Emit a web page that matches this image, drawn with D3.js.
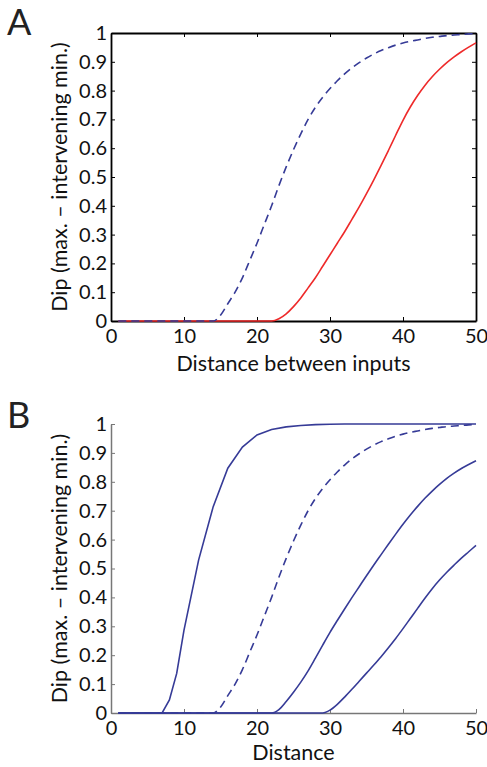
<!DOCTYPE html>
<html><head><meta charset="utf-8">
<script src="https://cdn.jsdelivr.net/npm/d3@7"></script>
<style>body{margin:0;background:#fff} svg{display:block}</style>
</head><body><svg id="c" width="487" height="767"></svg>
<script>
// ---- data ----
const xs = d3.range(1, 51); // 1..50
const dashedVals = [0,0,0,0,0,0,0,0,0,0,0,0,0,0,0.02,0.06,0.10,0.15,0.21,0.27,
  0.335,0.40,0.47,0.535,0.595,0.65,0.70,0.742,0.777,0.807,0.834,0.858,0.879,0.897,0.913,0.927,0.939,0.949,0.958,0.965,
  0.971,0.976,0.981,0.985,0.988,0.991,0.993,0.995,0.997,0.998];
const redVals = [0,0,0,0,0,0,0,0,0,0,0,0,0,0,0,0,0,0,0,0,
  0,0,0.008,0.025,0.05,0.08,0.115,0.15,0.19,0.23,0.27,0.31,0.353,0.396,0.442,0.49,0.54,0.592,0.645,0.697,
  0.743,0.783,0.818,0.848,0.874,0.897,0.917,0.935,0.951,0.966];
const steepX = [1,7,8,9,10,12,14,16,18,20,22,24,26,28,30,32,34,36,38,40,42,44,46,48,50];
const steepVals = [0,0,0.045,0.137,0.287,0.529,0.714,0.847,0.92,0.962,0.981,0.99,0.995,0.998,0.999,1,1,1,1,1,1,1,1,1,1];
const midVals = [0,0,0,0,0,0,0,0,0,0,0,0,0,0,0,0,0,0,0,0,
  0,0,0.012,0.04,0.072,0.107,0.146,0.19,0.235,0.279,0.32,0.36,0.399,0.437,0.475,0.512,0.548,0.584,0.619,0.653,
  0.685,0.715,0.743,0.768,0.791,0.812,0.83,0.846,0.86,0.873];
const lateVals = [0,0,0,0,0,0,0,0,0,0,0,0,0,0,0,0,0,0,0,0,
  0,0,0,0,0,0,0,0,0,0.01,0.03,0.055,0.082,0.11,0.138,0.166,0.195,0.226,0.258,0.292,
  0.327,0.362,0.397,0.43,0.46,0.487,0.512,0.536,0.558,0.58];
const xTicks = [0,10,20,30,40,50];
const yTicks = [0,0.1,0.2,0.3,0.4,0.5,0.6,0.7,0.8,0.9,1];
const yTickLabels = ["0","0.1","0.2","0.3","0.4","0.5","0.6","0.7","0.8","0.9","1"];
const yTitle = "Dip (max. \u2013 intervening min.)";
const xTitleA = "Distance between inputs";
const xTitleB = "Distance";

// ---- drawing ----
const svg = d3.select("#c");
const FONT = "Lato, 'Open Sans', sans-serif";
const BLUE = "#363b97", RED = "#ee2a2a";
const left = 111, right = 476;

function panel(opts){
  const x = d3.scaleLinear().domain([0,50]).range([left,right]);
  const y = d3.scaleLinear().domain([0,1]).range([opts.bottom, opts.top]);
  const g = svg.append("g");
  const axCol = opts.axisColor;
  const style = sel => {
    sel.selectAll("path.domain").attr("stroke", axCol).attr("stroke-width", opts.axisWidth);
    sel.selectAll(".tick line").attr("stroke", axCol).attr("stroke-width", 1);
    sel.selectAll(".tick text").attr("fill","#111").style("font-family",FONT).style("font-size","20px");
  };
  const lg = g.append("g");
  opts.series.forEach(s=>{
    const line = d3.line().x(d=>x(d[0])).y(d=>y(d[1])).curve(s.linear ? d3.curveLinear : d3.curveMonotoneX);
    lg.append("path").datum(s.x.map((v,i)=>[v,s.y[i]]))
      .attr("d", line).attr("fill","none").attr("stroke", s.color)
      .attr("stroke-width", 1.6).attr("stroke-dasharray", s.dash || null);
  });
  const ax = g.append("g").attr("transform",`translate(0,${opts.bottom})`)
    .call(d3.axisBottom(x).tickValues(xTicks).tickSize(-4).tickSizeOuter(0).tickPadding(8));
  style(ax);
  const ay = g.append("g").attr("transform",`translate(${left},0)`)
    .call(d3.axisLeft(y).tickValues(yTicks).tickFormat((d,i)=>yTickLabels[i]).tickSize(-4).tickSizeOuter(0).tickPadding(4));
  style(ay);
  if (opts.box){
    const at = g.append("g").attr("transform",`translate(0,${opts.top})`)
      .call(d3.axisTop(x).tickValues(xTicks).tickSize(-4).tickSizeOuter(0).tickFormat(""));
    style(at);
    const ar = g.append("g").attr("transform",`translate(${right},0)`)
      .call(d3.axisRight(y).tickValues(yTicks).tickSize(-4).tickSizeOuter(0).tickFormat(""));
    style(ar);
  }
  lg.raise();
  g.append("text").attr("x",(left+right)/2).attr("y",opts.xTitleY).attr("text-anchor","middle")
    .style("font-family",FONT).style("font-size","21.5px").attr("fill","#111").text(opts.xTitle);
  g.append("text").attr("transform",`translate(67,${(opts.top+opts.bottom)/2}) rotate(-90)`)
    .attr("text-anchor","middle").style("font-family",FONT).style("font-size","21.5px").attr("fill","#111").text(yTitle);
  g.append("text").attr("x",7).attr("y",opts.letterY).style("font-family",FONT).style("font-size","36px")
    .attr("fill","#222").text(opts.letter);
}

panel({top:33,bottom:321,box:true,axisColor:"#000",axisWidth:1.8,xTitle:xTitleA,xTitleY:371,letter:"A",letterY:35,
  series:[
    {x:xs,y:redVals,color:RED},
    {x:xs,y:dashedVals,color:BLUE,dash:"8,5"}
  ]});
panel({top:424,bottom:713,box:false,axisColor:"#777",axisWidth:1.5,xTitle:xTitleB,xTitleY:760,letter:"B",letterY:428,
  series:[
    {x:steepX,y:steepVals,color:BLUE,linear:true},
    {x:xs,y:dashedVals,color:BLUE,dash:"8,5"},
    {x:xs,y:midVals,color:BLUE},
    {x:xs,y:lateVals,color:BLUE}
  ]});
</script></body></html>
